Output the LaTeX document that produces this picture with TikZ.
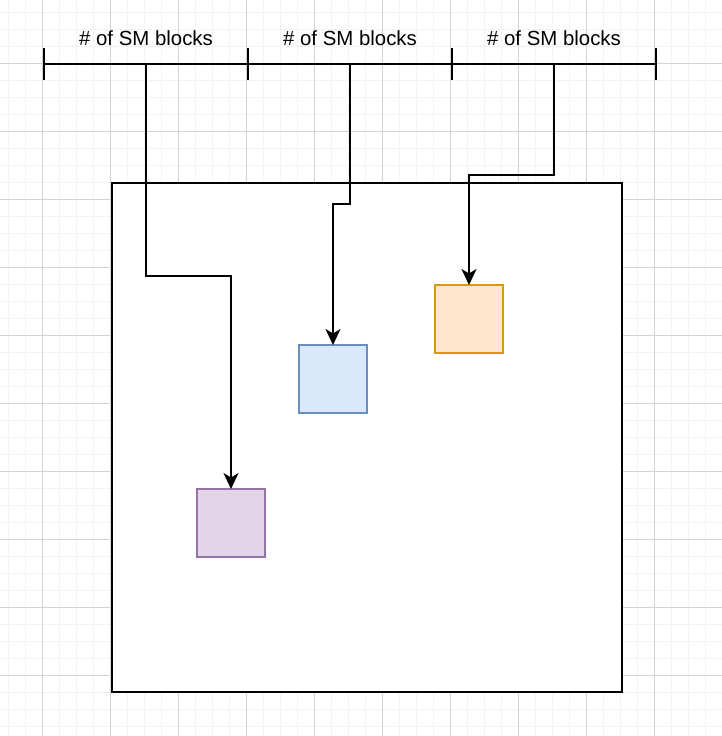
\documentclass[tikz,border=0pt]{standalone}
\usepackage{fontspec}
\setmainfont{Liberation Sans}
\usetikzlibrary{arrows.meta}
\definecolor{minorgrid}{HTML}{F3F3F3}
\definecolor{majorgrid}{HTML}{D3D3D3}
\definecolor{purplefill}{HTML}{E1D5E7}
\definecolor{purpleline}{HTML}{9673A6}
\definecolor{bluefill}{HTML}{DAE8FC}
\definecolor{blueline}{HTML}{6C8EBF}
\definecolor{orangefill}{HTML}{FFE6CC}
\definecolor{orangeline}{HTML}{D79B00}
\tikzset{
  block/.style={draw, line width=1.7pt, minimum width=68pt, minimum height=68pt, inner sep=0pt, outer sep=0pt, anchor=north west},
  frame/.style={draw, line width=2pt, minimum width=510pt, minimum height=509pt, inner sep=0pt, outer sep=0pt, anchor=north west, fill=white},
  lbl/.style={font=\fontsize{20.4pt}{24pt}\selectfont, inner sep=0pt},
  axis/.style={line width=2pt},
  conn/.style={line width=2pt, -{Stealth[length=16pt,width=15pt,inset=4.5pt]}},
}
\begin{document}
\begin{tikzpicture}[x=1pt,y=-1pt]
\useasboundingbox (0,0) rectangle (722,736);
\fill[white] (0,0) rectangle (722,736);
% grid
\foreach \i in {0,...,42} {
  \draw[minorgrid, line width=1pt] ({8.7+17*\i},0) -- ({8.7+17*\i},736);
  \draw[minorgrid, line width=1pt] (0,{12.3+17*\i}) -- (722,{12.3+17*\i});
}
\foreach \i in {0,...,10} {
  \draw[majorgrid, line width=1pt] ({42.7+68*\i},0) -- ({42.7+68*\i},736);
  \draw[majorgrid, line width=1pt] (0,{-4.7+68*\i}) -- (722,{-4.7+68*\i});
}
% frame and blocks
\node[frame] (frame) at (112,183) {};
\node[block, fill=purplefill, draw=purpleline] (purple) at (197,489) {};
\node[block, fill=bluefill, draw=blueline] (blue) at (299,345) {};
\node[block, fill=orangefill, draw=orangeline] (orange) at (435,285) {};
% axis
\coordinate (a0) at (44,63.5);
\coordinate (a1) at (248,63.5);
\coordinate (a2) at (452,63.5);
\coordinate (a3) at (656,63.5);
\coordinate (m1) at (146,63.5);
\coordinate (m2) at (350,63.5);
\coordinate (m3) at (554,63.5);
\draw[axis] (a0) -- (a3);
\foreach \c in {a0,a1,a2,a3} {
  \draw[axis] ([yshift=-16pt]\c) -- ([yshift=16pt]\c);
}
\node[lbl] (l1) at (146,38) {\# of SM blocks};
\node[lbl] (l2) at (350,38) {\# of SM blocks};
\node[lbl] (l3) at (554,38) {\# of SM blocks};
% connectors
\draw[conn] (m1) |- (purple.north |- {(0,276)}) -- (purple.north);
\draw[conn] (m2) |- (blue.north |- {(0,204)}) -- (blue.north);
\draw[conn] (m3) |- (orange.north |- {(0,175)}) -- (orange.north);
\end{tikzpicture}
\end{document}
